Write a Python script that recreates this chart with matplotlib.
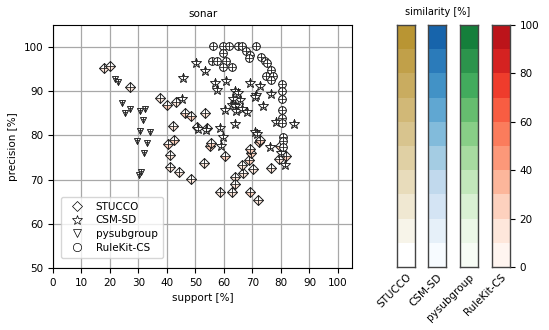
import numpy as np
import matplotlib
matplotlib.use("Agg")
import matplotlib.pyplot as plt
from matplotlib.colors import ListedColormap, LinearSegmentedColormap, BoundaryNorm

# support [%], precision [%]
stucco_x = [17.8, 19.9, 27.0, 37.7, 40.1, 43.3, 46.2, 48.5, 53.3, 42.2, 50.5, 53.9, 40.4, 42.3,
            41.2, 40.9, 44.2, 48.4, 53.1, 55.1, 55.3, 60.4, 58.7, 62.9, 64.0, 63.9, 66.8, 66.5,
            68.9, 69.5, 69.1, 70.1, 69.1, 72.1, 72.2, 72.6, 76.5, 79.2, 81.8, 79.6]
stucco_y = [95.2, 95.7, 91.0, 88.4, 86.8, 87.6, 85.1, 84.4, 85.0, 82.1, 81.9, 81.8, 78.1, 78.9,
            75.5, 72.9, 71.7, 70.2, 73.8, 77.6, 78.3, 75.3, 67.1, 67.2, 70.6, 69.1, 71.5, 73.4,
            74.5, 76.1, 77.0, 72.3, 67.3, 65.5, 78.5, 78.9, 72.7, 74.7, 75.3, 77.6]
# similarity of each STUCCO rule to RuleKit-CS [%]
stucco_sim = [12, 15, 18, 15, 22, 15, 22, 20, 15, 18, 20, 15, 22, 25,
              15, 12, 15, 12, 15, 20, 22, 20, 15, 15, 18, 15, 15, 12,
              22, 25, 22, 18, 25, 15, 22, 25, 15, 18, 20, 22]

csm_x = [50.2, 53.3, 45.8, 56.7, 60.8, 57.6, 63.9, 65.0, 69.1, 72.6, 71.4, 71.0, 76.4, 73.6,
         65.6, 63.3, 62.8, 63.9, 60.5, 64.4, 66.2, 68.0, 63.8, 58.6, 53.6, 59.5, 58.8, 70.9,
         71.5, 78.3, 84.7, 76.3, 79.9, 81.4, 45.4, 51.0]
csm_y = [96.3, 94.6, 93.0, 91.8, 92.4, 90.2, 90.1, 89.7, 91.8, 91.1, 89.2, 88.7, 89.5, 86.7,
         88.1, 88.2, 87.0, 86.7, 85.8, 85.5, 86.0, 85.4, 82.7, 81.6, 81.2, 79.7, 77.6, 80.8,
         80.4, 83.0, 82.5, 77.5, 76.1, 73.3, 88.2, 81.5]

pysg_x = [21.6, 22.8, 24.2, 25.1, 26.9, 30.6, 32.4, 31.6, 30.6, 33.9, 29.6, 33.1, 31.8, 30.1, 31.0]
pysg_y = [92.7, 92.0, 87.4, 85.1, 86.0, 85.6, 86.0, 83.6, 81.0, 80.7, 78.8, 78.3, 76.0, 71.1, 71.7]

rk_x = [56.0, 59.8, 61.9, 65.0, 66.2, 71.2, 59.8, 67.7, 69.1, 68.9, 72.9, 74.4, 75.0, 55.7,
        57.4, 60.7, 59.8, 62.7, 76.4, 74.7, 77.3, 76.4, 80.2, 80.2, 80.2, 80.2, 80.2, 80.2,
        80.6, 80.6, 80.8]
rk_y = [100.2, 100.2, 100.2, 100.2, 100.2, 100.2, 98.6, 99.1, 98.3, 97.5, 97.8, 96.9, 96.3, 96.8,
        96.8, 96.9, 95.4, 95.4, 94.8, 93.5, 93.5, 92.5, 91.7, 90.1, 88.2, 85.7, 84.0, 82.9,
        79.7, 78.7, 77.5]

methods = ["STUCCO", "CSM-SD", "pysubgroup", "RuleKit-CS"]
markers = {"STUCCO": ("D", 4.6), "CSM-SD": ("*", 7), "pysubgroup": ("v", 5), "RuleKit-CS": ("o", 5.5)}

# discrete colour scales, 10 bins each
gold = LinearSegmentedColormap.from_list("gold", ["#ffffff", "#a87a00"])
base_cmaps = [gold, plt.get_cmap("Blues"), plt.get_cmap("Greens"), plt.get_cmap("Reds")]
levels = np.linspace(0, 100, 11)
cmaps = [ListedColormap(c(np.linspace(0, 0.8, 10))) for c in base_cmaps]
norm = BoundaryNorm(levels, 10)

fig = plt.figure(figsize=(5.49, 3.3), dpi=100)
ax = fig.add_axes([0.0965, 0.188, 0.545, 0.736])


def split_marker(x, y, marker, ms, bottom_color):
    # horizontal split, lower half coloured
    ax.plot(x, y, marker=marker, ms=ms, ls="none", fillstyle="top", mfc="white",
            mfcalt=bottom_color, mec="#222222", mew=0.5, zorder=3)
    # vertical split, just the dividing line
    ax.plot(x, y, marker=marker, ms=ms, ls="none", fillstyle="left", mfc="none",
            mfcalt="none", mec="#222222", mew=0.5, zorder=3)


reds = cmaps[3]
for x, y, s in zip(stucco_x, stucco_y, stucco_sim):
    split_marker(x, y, "D", markers["STUCCO"][1], reds(norm(s)))
for x, y in zip(csm_x, csm_y):
    split_marker(x, y, "*", markers["CSM-SD"][1], "white")
for x, y in zip(pysg_x, pysg_y):
    split_marker(x, y, "v", markers["pysubgroup"][1], "white")
for x, y in zip(rk_x, rk_y):
    split_marker(x, y, "o", markers["RuleKit-CS"][1], "white")

ax.set_xlim(0, 105)
ax.set_ylim(50, 105)
ax.set_xticks(np.arange(0, 101, 10))
ax.set_yticks(np.arange(50, 101, 10))
ax.grid(True, color="#a8a8a8", lw=0.9)
ax.set_axisbelow(True)
ax.tick_params(labelsize=7.5)
ax.set_xlabel("support [%]", fontsize=7.5)
ax.set_ylabel("precision [%]", fontsize=7.5)
ax.set_title("sonar", fontsize=7.5)

handles = [ax.plot([], [], marker=markers[m][0], ms=markers[m][1] + 0.5, ls="none", mfc="white",
                   mec="black", mew=0.5)[0] for m in methods]
ax.legend(handles, methods, loc="lower left", fontsize=7.5, bbox_to_anchor=(0.01, 0.02),
          handletextpad=0.8, borderpad=0.5, labelspacing=0.35)

# colour bars
bar_lefts = [0.723, 0.780, 0.838, 0.896]
for i, (left, cm) in enumerate(zip(bar_lefts, cmaps)):
    cax = fig.add_axes([left, 0.191, 0.033, 0.733])
    cax.pcolormesh([0, 1], levels, np.array(levels[:-1]).reshape(-1, 1) + 5, cmap=cm, norm=norm)
    cax.set_xlim(0, 1)
    cax.set_ylim(0, 100)
    for sp in cax.spines.values():
        sp.set_color("#444444")
        sp.set_linewidth(1.0)
    cax.set_xticks([0.5])
    cax.set_xticklabels([methods[i]], rotation=45, ha="right", rotation_mode="anchor", fontsize=7.5)
    cax.tick_params(axis="x", length=0)
    if i == 3:
        cax.yaxis.tick_right()
        cax.set_yticks(np.arange(0, 101, 20))
        cax.tick_params(axis="y", labelsize=7.5)
    else:
        cax.set_yticks([])

fig.text(0.797, 0.955, "similarity [%]", fontsize=7, ha="center")

fig.savefig("out.png", dpi=100)
